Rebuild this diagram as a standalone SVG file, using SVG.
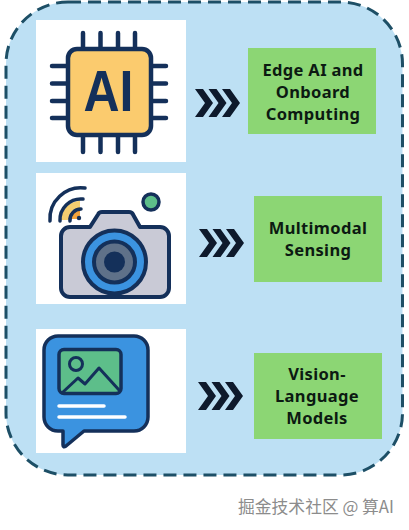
<svg xmlns="http://www.w3.org/2000/svg" xmlns:xlink="http://www.w3.org/1999/xlink" width="409" height="530" viewBox="0 0 409 530">
<style>
.panel{fill:#fff}
.box{fill:#8CD674}
.lbl{font-family:"Noto Sans","Open Sans",sans-serif;font-weight:700;font-size:16.500px;letter-spacing:.35px;fill:#0c1a12;text-anchor:middle}
.ln{fill:none;stroke:#14305a;stroke-linecap:round;stroke-linejoin:round}
.chev{fill:#0e1a2c}
</style>
<defs>
<g id="chev3">
<polygon class="chev" points="0,0 8,0 18,14 8,28 0,28 10,14"/>
<polygon class="chev" points="13.500,0 21.500,0 31.500,14 21.500,28 13.500,28 23.500,14"/>
<polygon class="chev" points="27,0 35,0 45,14 35,28 27,28 37,14"/>
</g>
</defs>
<rect width="409" height="530" fill="#fff"/>
<rect id="frame" x="6" y="2" width="396.500" height="473" rx="62" fill="#BDE0F4" stroke="#1D4F66" stroke-width="3" stroke-dasharray="13 7"/>

<g id="node-chip">
<rect class="panel" x="36" y="20" width="150" height="142"/>
<path class="ln" stroke-width="4.500" d="M83 33V152M100.500 33V152M118 33V152M135 33V152M52 66H166M52 83.500H166M52 101H166M52 118H166"/>
<rect x="68" y="49" width="83" height="86" rx="9" fill="#FBCB6E" stroke="#14305a" stroke-width="4.500"/>
<text x="108.500" y="111" font-family="'Liberation Sans',Arial,sans-serif" font-weight="700" font-size="57" fill="#14305a" text-anchor="middle" textLength="50" lengthAdjust="spacingAndGlyphs">AI</text>
</g>

<g id="node-camera">
<rect class="panel" x="36" y="173" width="150" height="131"/>
<path d="M61 236a9 9 0 0 1 9-9H90L98 214.500Q99 212 102 212H129Q132 212 133 214.500L140 227H160a9 9 0 0 1 9 9V288a9 9 0 0 1-9 9H70a9 9 0 0 1-9-9Z" fill="#C9CAD6" stroke="#14305a" stroke-width="4" stroke-linejoin="round"/>
<circle cx="114.500" cy="262" r="31.500" fill="#3B93E0" stroke="#14305a" stroke-width="4"/>
<circle cx="114.500" cy="262" r="20.500" fill="#5F7189" stroke="#14305a" stroke-width="4"/>
<circle cx="114.500" cy="262" r="10.500" fill="#14305a"/>
<circle cx="151" cy="202" r="8" fill="#5DBE8A" stroke="#14305a" stroke-width="3.500"/>
<path d="M61 220A19 19 0 0 1 80 201V208A12 12 0 0 0 68 220Z" fill="#F5CE70"/>
<path d="M68 220A12 12 0 0 1 80 208V219H68Z" fill="#F2A33C"/>
<path class="ln" stroke-width="3.500" d="M50 221A31 31 0 0 1 85 188M60 221A21 21 0 0 1 83 199M70 221A11 11 0 0 1 81 209"/>
<circle cx="79" cy="218" r="2.200" fill="#14305a"/>
</g>

<g id="node-chat">
<rect class="panel" x="36" y="329" width="150" height="124"/>
<path d="M58 336H134a14 14 0 0 1 14 14V417a14 14 0 0 1-14 14H84L66 446Q63 448 63 445V431H58a14 14 0 0 1-14-14V350a14 14 0 0 1 14-14Z" fill="#3B93E0" stroke="#14305a" stroke-width="3.500" stroke-linejoin="round"/>
<rect x="59" y="349.500" width="62" height="44" rx="5" fill="#5DBE8A" stroke="#14305a" stroke-width="3.500"/>
<circle cx="76" cy="364" r="6.500" fill="none" stroke="#14305a" stroke-width="3"/>
<path class="ln" stroke-width="3" d="M63 392L78 378L85 384L99 368L119 390"/>
<path d="M59 406H104M59 417H125" stroke="#fff" stroke-width="3.500" stroke-linecap="round" fill="none"/>
</g>

<g id="connectors">
<use xlink:href="#chev3" href="#chev3" x="195" y="89"/>
<use xlink:href="#chev3" href="#chev3" x="199" y="229"/>
<use xlink:href="#chev3" href="#chev3" x="198" y="382"/>
</g>

<g id="node-edge">
<rect class="box" x="248" y="48" width="128" height="86"/>
<text class="lbl" x="313" y="76">Edge AI and</text>
<text class="lbl" x="313" y="98">Onboard</text>
<text class="lbl" x="313" y="120">Computing</text>
</g>
<g id="node-sensing">
<rect class="box" x="254" y="196" width="128" height="86"/>
<text class="lbl" x="318" y="234">Multimodal</text>
<text class="lbl" x="318" y="256">Sensing</text>
</g>
<g id="node-vision">
<rect class="box" x="254" y="353" width="128" height="86"/>
<text class="lbl" x="317" y="380">Vision-</text>
<text class="lbl" x="317" y="402">Language</text>
<text class="lbl" x="317" y="424">Models</text>
</g>

<text id="watermark" x="238" y="513" font-family="'Noto Sans CJK SC','Liberation Sans',sans-serif" font-size="16.800" fill="#8c8c8c">掘金技术社区 @ 算AI</text>
</svg>
